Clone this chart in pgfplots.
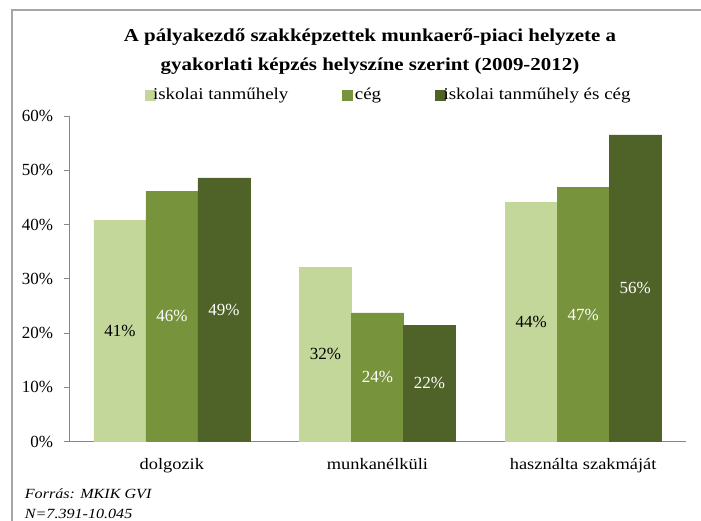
\documentclass[border=0pt]{standalone}
\usepackage{fontspec}
\setmainfont{Liberation Serif}
\newfontfamily\wide[FakeStretch=1.15]{Liberation Serif}
\usepackage{pgfplots}
\pgfplotsset{compat=1.18}

\definecolor{light}{HTML}{C4D79B}
\definecolor{mid}{HTML}{77933C}
\definecolor{dark}{HTML}{4F6228}
\definecolor{axisgray}{HTML}{878787}
\definecolor{framegray}{HTML}{A6A6A6}

\begin{document}
\fontsize{17bp}{20bp}\selectfont
\begin{tikzpicture}
\useasboundingbox (0,0) rectangle (701bp,521bp);
\draw[framegray, line width=1.3bp] (12bp,0) -- (12bp,511bp) -- (701bp,511bp);

\begin{axis}[
  at={(69bp,79.5bp)}, anchor=south west,
  scale only axis,
  width=617bp, height=325.5bp,
  ybar=0pt, bar width=52bp,
  xmin=-0.5, xmax=2.5,
  ymin=0, ymax=60,
  xtick={0,1,2},
  xticklabels={dolgozik, munkanélküli, használta szakmáját},
  x tick label style={font=\wide\fontsize{16bp}{19bp}\selectfont, yshift=-6bp},
  ytick={0,10,20,30,40,50,60},
  yticklabels={0\%,10\%,20\%,30\%,40\%,50\%,60\%},
  y tick label style={xshift=-5bp},
  axis x line*=bottom, axis y line*=left,
  axis line style={axisgray, line width=1bp},
  tick align=outside, major tick length=5bp,
  ytick style={axisgray, line width=0.8bp},
  xtick style={draw=none},
  point meta=explicit symbolic,
  nodes near coords={\pgfplotspointmeta},
  visualization depends on=y \as \rawy,
  every node near coord/.append style={anchor=center, shift={(axis direction cs:0,-\rawy/2)}},
  legend columns=3,
  legend style={at={(axis description cs:0.518,1.065)}, anchor=center, draw=none, fill=none,
    font=\wide\fontsize{16.5bp}{19bp}\selectfont,
    /tikz/every even column/.append style={column sep=52bp}},
  legend image code/.code={\fill[#1] (0bp,-5bp) rectangle (10bp,5bp);},
]
\addplot[fill=light, draw=light, every node near coord/.append style={text=black}]
  coordinates {(0,40.8) [41\%] (1,32.1) [32\%] (2,44.1) [44\%]};
\addlegendentry{\hspace{-4bp}iskolai tanműhely}
\addplot[fill=mid, draw=mid, every node near coord/.append style={text=white}]
  coordinates {(0,46.1) [46\%] (1,23.7) [24\%] (2,46.8) [47\%]};
\addlegendentry{cég}
\addplot[fill=dark, draw=dark, every node near coord/.append style={text=white}]
  coordinates {(0,48.6) [49\%] (1,21.4) [22\%] (2,56.5) [56\%]};
\addlegendentry{\hspace{-4bp}iskolai tanműhely és cég}
\end{axis}

\node[font=\wide\fontsize{18.2bp}{29bp}\selectfont\bfseries, align=center] at (370bp,469bp)
  {A pályakezdő szakképzettek munkaerő-piaci helyzete a\\
   gyakorlati képzés helyszíne szerint (2009-2012)};
\node[font=\wide\fontsize{14bp}{17bp}\selectfont\itshape, anchor=west] at (19bp,27bp) {Forrás: MKIK GVI};
\node[font=\wide\fontsize{14bp}{17bp}\selectfont\itshape, anchor=west] at (19bp,7bp) {N=7.391-10.045};
\end{tikzpicture}
\end{document}
